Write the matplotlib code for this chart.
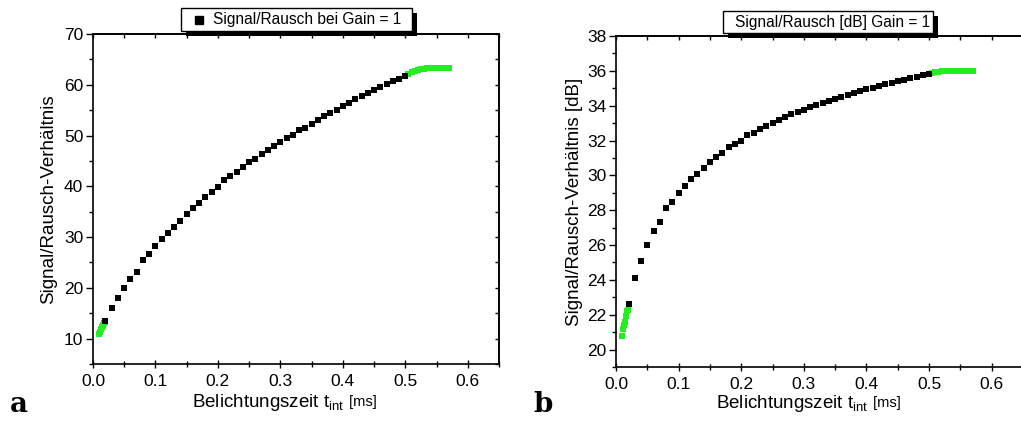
import matplotlib
matplotlib.use('Agg')
import matplotlib.pyplot as plt
from matplotlib.patches import Rectangle
from matplotlib.text import Annotation
from matplotlib.ticker import MultipleLocator, FormatStrFormatter, NullFormatter

plt.rcParams['font.family'] = ['Liberation Sans', 'DejaVu Sans']
plt.rcParams['mathtext.fontset'] = 'custom'
plt.rcParams['mathtext.rm'] = 'Liberation Sans'
plt.rcParams['mathtext.it'] = 'Liberation Sans'

# Integration time [ms], measured points (black)
t_black = [0.02, 0.03, 0.04, 0.05, 0.06, 0.07, 0.08, 0.09, 0.10, 0.11,
           0.12, 0.13, 0.14, 0.15, 0.16, 0.17, 0.18, 0.19, 0.20, 0.21,
           0.22, 0.23, 0.24, 0.25, 0.26, 0.27, 0.28, 0.29, 0.30, 0.31,
           0.32, 0.33, 0.34, 0.35, 0.36, 0.37, 0.38, 0.39, 0.40, 0.41,
           0.42, 0.43, 0.44, 0.45, 0.46, 0.47, 0.48, 0.49, 0.50]
snr_black = [13.5, 16.0, 18.0, 20.0, 21.7, 23.1, 25.5, 26.7, 28.2, 29.6,
             30.9, 31.9, 33.2, 34.5, 35.7, 36.7, 37.9, 38.8, 39.9, 41.2,
             42.0, 42.9, 43.9, 44.7, 45.4, 46.4, 47.2, 47.9, 48.7, 49.5,
             50.2, 51.0, 51.5, 52.3, 53.1, 53.8, 54.4, 55.1, 55.8, 56.5,
             57.2, 57.7, 58.3, 59.0, 59.5, 60.1, 60.7, 61.2, 61.8]
snr_db_black = [22.6, 24.1, 25.1, 26.0, 26.8, 27.3, 28.1, 28.5, 29.0, 29.4,
                29.8, 30.1, 30.45, 30.75, 31.05, 31.3, 31.6, 31.8, 32.0, 32.3,
                32.45, 32.65, 32.85, 33.0, 33.15, 33.35, 33.5, 33.65, 33.75, 33.9,
                34.03, 34.15, 34.27, 34.39, 34.5, 34.62, 34.73, 34.85, 34.94, 35.04,
                35.13, 35.23, 35.32, 35.4, 35.5, 35.57, 35.65, 35.75, 35.82]

# green segments (edges of the range)
t_green_lo = [0.010, 0.0115, 0.013, 0.0145, 0.016, 0.0175, 0.019]
snr_green_lo = [11.0, 11.4, 11.8, 12.2, 12.6, 13.0, 13.3]
snr_db_green_lo = [20.8, 21.2, 21.4, 21.6, 21.9, 22.2, 22.3]
t_green_hi = [0.505, 0.51, 0.515, 0.52, 0.525, 0.53, 0.535, 0.54,
              0.545, 0.55, 0.555, 0.56, 0.565, 0.57]
snr_green_hi = [62.1, 62.5, 62.8, 63.0, 63.1, 63.2, 63.25, 63.3,
                63.3, 63.3, 63.3, 63.3, 63.3, 63.3]
snr_db_green_hi = [35.87, 35.92, 35.96, 35.98, 36.0, 36.0, 36.01, 36.01,
                   36.01, 36.01, 36.01, 36.01, 36.01, 36.01]

W, H = 1021, 421
GREEN = '#22ee22'
fig = plt.figure(figsize=(W / 100, H / 100), dpi=100)


def px(x0, y0, x1, y1):
    # pixel box (from top-left) -> figure fraction rect
    return [x0 / W, 1 - y1 / H, (x1 - x0) / W, (y1 - y0) / H]


def style_axes(ax, ylim, ymaj, ymin, right_ticks=True):
    ax.set_xlim(0, 0.65)
    ax.set_ylim(*ylim)
    ax.xaxis.set_major_locator(MultipleLocator(0.1))
    ax.xaxis.set_minor_locator(MultipleLocator(0.05))
    ax.yaxis.set_major_locator(MultipleLocator(ymaj))
    ax.yaxis.set_minor_locator(MultipleLocator(ymin))
    ax.xaxis.set_major_formatter(FormatStrFormatter('%.1f'))
    ax.tick_params(axis='both', which='both', labelsize=12.5, width=1.0, color='black')
    ax.tick_params(axis='y', which='major', direction='out', length=5, pad=2)
    ax.tick_params(axis='y', which='minor', direction='out', length=3)
    ax.tick_params(axis='x', which='major', direction='inout', length=6, pad=4)
    ax.tick_params(axis='x', which='minor', direction='inout', length=4)
    for s in ax.spines.values():
        s.set_linewidth(1.2)

    # inward ticks on the top and right frame
    top = ax.secondary_xaxis('top')
    top.xaxis.set_major_locator(MultipleLocator(0.1))
    top.xaxis.set_minor_locator(MultipleLocator(0.05))
    top.xaxis.set_major_formatter(NullFormatter())
    top.tick_params(which='both', direction='in', length=3, width=1.0)
    top.spines['top'].set_linewidth(1.2)
    if right_ticks:
        right = ax.secondary_yaxis('right')
        right.yaxis.set_major_locator(MultipleLocator(ymaj))
        right.yaxis.set_minor_locator(MultipleLocator(ymin))
        right.yaxis.set_major_formatter(NullFormatter())
        right.tick_params(which='both', direction='in', length=3, width=1.0)
        right.spines['right'].set_linewidth(1.2)


def legend_box(x0, y0, x1, y1, text, tx, marker=False):
    fig.patches.append(Rectangle(((x0 + 5) / W, 1 - (y1 + 5) / H), (x1 - x0) / W, (y1 - y0) / H,
                                 transform=fig.transFigure, facecolor='black', edgecolor='none', zorder=10))
    fig.patches.append(Rectangle((x0 / W, 1 - y1 / H), (x1 - x0) / W, (y1 - y0) / H,
                                 transform=fig.transFigure, facecolor='white', edgecolor='black',
                                 linewidth=1.0, zorder=11))
    yc = 1 - (y0 + y1) / 2 / H
    if marker:
        fig.lines.append(plt.Line2D([199 / W], [yc], marker='s', color='black', markersize=6,
                                    transform=fig.transFigure, zorder=12))
    fig.text(tx / W, yc, text, fontsize=11.2, va='center', ha='left', zorder=12)


# panel a
ax1 = fig.add_axes(px(93, 34, 499, 364))
ax1.plot(t_green_lo, snr_green_lo, 's', color=GREEN, markersize=5, markeredgewidth=0)
ax1.plot(t_green_hi, snr_green_hi, 's', color=GREEN, markersize=5, markeredgewidth=0)
ax1.plot(t_black, snr_black, 's', color='black', markersize=5, markeredgewidth=0)
style_axes(ax1, (5, 70), 10, 5)
ax1.set_ylabel('Signal/Rausch-Verhältnis', fontsize=13.5, labelpad=5)

# panel b (cut off at the right edge of the figure)
ax2 = fig.add_axes(px(616, 36, 1023, 367))
ax2.plot(t_green_lo, snr_db_green_lo, 's', color=GREEN, markersize=5, markeredgewidth=0)
ax2.plot(t_green_hi, snr_db_green_hi, 's', color=GREEN, markersize=5, markeredgewidth=0)
ax2.plot(t_black, snr_db_black, 's', color='black', markersize=5, markeredgewidth=0)
style_axes(ax2, (19, 38), 2, 1, right_ticks=False)
ax2.spines['right'].set_visible(False)
ax2.set_ylabel('Signal/Rausch-Verhältnis [dB]', fontsize=13.5, labelpad=3)

# x labels with a smaller unit
for xs, ys in [(192, 407), (716, 408)]:
    t = fig.text(xs / W, 1 - ys / H, r'Belichtungszeit t$_{\mathrm{int}}$', fontsize=13.5,
                 ha='left', va='baseline')
    a = Annotation(' [ms]', xy=(1.0, 0.0), xycoords=t, xytext=(0, 3), textcoords='offset points',
                   fontsize=10.5, ha='left', va='bottom')
    fig.add_artist(a)

legend_box(181, 8, 412, 31, 'Signal/Rausch bei Gain = 1', 213, marker=True)
legend_box(723, 11, 933, 33, 'Signal/Rausch [dB] Gain = 1', 735)

fig.text(10 / W, 1 - 412 / H, 'a', fontsize=20, family='DejaVu Serif', weight='bold')
fig.text(533 / W, 1 - 412 / H, 'b', fontsize=20, family='DejaVu Serif', weight='bold')

fig.savefig('out.png', dpi=100)
